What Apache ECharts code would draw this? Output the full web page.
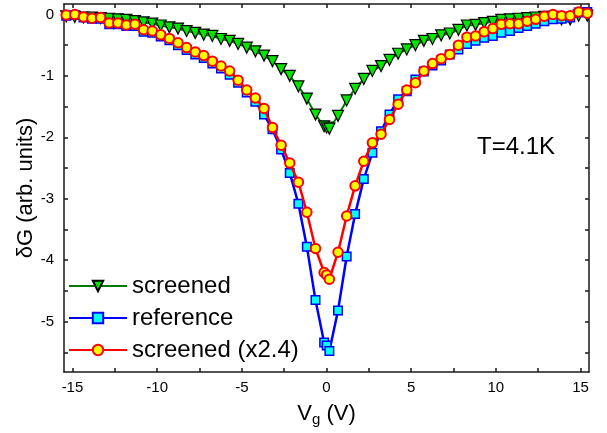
<!DOCTYPE html>
<html><head><meta charset="utf-8">
<script src="https://cdn.jsdelivr.net/npm/echarts@6/dist/echarts.min.js"></script>
<style>html,body{margin:0;padding:0;background:#fff}#c{width:607px;height:433px}</style>
</head><body><div id="c"></div>
<script>
// Gate voltage (V)
const vg = [-15.37,-14.86,-14.35,-13.85,-13.34,-12.83,-12.32,-11.82,-11.31,-10.80,-10.29,-9.79,-9.28,-8.77,-8.26,-7.75,-7.25,-6.74,-6.23,-5.72,-5.22,-4.71,-4.20,-3.69,-3.19,-2.68,-2.17,-1.66,-1.16,-0.65,-0.14,0.01,0.17,0.68,1.19,1.69,2.20,2.71,3.22,3.72,4.23,4.74,5.25,5.75,6.26,6.77,7.28,7.79,8.29,8.80,9.31,9.82,10.32,10.83,11.34,11.85,12.35,12.86,13.37,13.88,14.39,14.89,15.40];
const screened = [-0.03,-0.04,-0.05,-0.05,-0.06,-0.07,-0.08,-0.09,-0.11,-0.13,-0.15,-0.18,-0.21,-0.23,-0.27,-0.30,-0.33,-0.35,-0.40,-0.43,-0.48,-0.54,-0.60,-0.67,-0.76,-0.89,-1.00,-1.17,-1.37,-1.63,-1.82,-1.84,-1.86,-1.65,-1.40,-1.21,-1.05,-0.92,-0.84,-0.74,-0.64,-0.57,-0.50,-0.43,-0.40,-0.34,-0.31,-0.25,-0.18,-0.17,-0.14,-0.12,-0.09,-0.08,-0.07,-0.06,-0.05,-0.04,-0.04,-0.08,-0.08,-0.02,-0.02];
const reference = [-0.02,-0.01,-0.05,-0.07,-0.07,-0.16,-0.16,-0.19,-0.19,-0.28,-0.30,-0.36,-0.42,-0.50,-0.58,-0.65,-0.71,-0.80,-0.88,-0.98,-1.11,-1.27,-1.42,-1.63,-1.87,-2.20,-2.58,-3.08,-3.78,-4.65,-5.34,-5.39,-5.48,-4.82,-3.94,-3.25,-2.68,-2.25,-1.90,-1.63,-1.38,-1.25,-1.06,-0.93,-0.83,-0.75,-0.65,-0.57,-0.48,-0.43,-0.38,-0.35,-0.30,-0.27,-0.22,-0.19,-0.15,-0.11,-0.08,-0.07,-0.05,0.03,0.04];
const screenedX24 = [-0.01,0.00,-0.04,-0.06,-0.05,-0.14,-0.14,-0.17,-0.16,-0.25,-0.27,-0.33,-0.39,-0.46,-0.54,-0.61,-0.67,-0.76,-0.84,-0.92,-1.07,-1.23,-1.36,-1.53,-1.84,-2.13,-2.42,-2.73,-3.22,-3.81,-4.20,-4.24,-4.31,-3.87,-3.28,-2.79,-2.39,-2.09,-1.95,-1.71,-1.46,-1.23,-1.11,-0.92,-0.80,-0.72,-0.65,-0.50,-0.37,-0.35,-0.28,-0.23,-0.16,-0.15,-0.15,-0.11,-0.08,-0.03,0.00,-0.02,-0.02,0.04,0.02];
const seriesNames = ['screened', 'reference', 'screened (x2.4)'];
const xLabels = [-15, -10, -5, 0, 5, 10, 15];
const xTicks = [-15, -12.5, -10, -7.5, -5, -2.5, 0, 2.5, 5, 7.5, 10, 12.5, 15];
const yLabels = [-5, -4, -3, -2, -1, 0];
const yTicks = [-5.5, -5, -4.5, -4, -3.5, -3, -2.5, -2, -1.5, -1, -0.5, 0];
const annotation = 'T=4.1K';

const F = '"Liberation Sans", Arial, sans-serif';
const lineSt = { color: '#1a1a1a', width: 1.5 };
const pairs = ys => vg.map((x, i) => [x, ys[i]]);

function xAx(pos, labels) {
  return {
    type: 'value', min: -15.5, max: 15.5, position: pos,
    axisLine: { show: true, onZero: false, lineStyle: lineSt },
    axisTick: { show: true, inside: true, length: 4, customValues: xTicks, lineStyle: lineSt },
    splitLine: { show: false },
    axisLabel: { show: labels, customValues: xLabels, fontSize: 15, color: '#000', fontFamily: F, margin: 8 },
    name: labels ? '{a|V}{s|g}{a| (V)}' : '',
    nameLocation: 'middle', nameGap: 28, nameMoveOverlap: false,
    nameTextStyle: { color: '#000', fontFamily: F, rich: {
      a: { fontSize: 22, fontFamily: F, color: '#000' },
      s: { fontSize: 15, fontFamily: F, color: '#000', padding: [12, 0, 0, 0] } } }
  };
}
function yAx(pos, labels) {
  return {
    type: 'value', min: -5.82, max: 0.17, position: pos,
    axisLine: { show: true, onZero: false, lineStyle: lineSt },
    axisTick: { show: true, inside: true, length: 4, customValues: yTicks, lineStyle: lineSt },
    splitLine: { show: false },
    axisLabel: { show: labels, customValues: yLabels, fontSize: 15, color: '#000', fontFamily: F, margin: 10 },
    name: labels ? 'δG (arb. units)' : '',
    nameLocation: 'middle', nameGap: 27, nameMoveOverlap: false,
    nameTextStyle: { fontSize: 22, color: '#000', fontFamily: F }
  };
}

const chart = echarts.init(document.getElementById('c'), null, { renderer: 'canvas' });
chart.setOption({
  animation: false,
  backgroundColor: '#fff',
  grid: { left: 64, right: 18, top: 4, bottom: 61 },
  xAxis: [xAx('bottom', true), xAx('top', false)],
  yAxis: [yAx('left', true), yAx('right', false)],
  legend: {
    orient: 'vertical', left: 68, top: 274, padding: 0, itemWidth: 58, itemHeight: 13, itemGap: 8,
    textStyle: { fontSize: 24, fontFamily: F, color: '#000', lineHeight: 24 },
    data: seriesNames
  },
  graphic: [{
    type: 'text', x: 516, y: 147,
    style: { text: annotation, font: '24px "Liberation Sans", Arial, sans-serif', fill: '#000', align: 'center', verticalAlign: 'middle' }
  }],
  series: [
    { name: seriesNames[0], type: 'line', data: pairs(screened), symbol: 'triangle', symbolRotate: 180, symbolSize: 11,
      lineStyle: { color: '#007a00', width: 2 }, itemStyle: { color: '#00e600', borderColor: '#000', borderWidth: 1.2 }, z: 2 },
    { name: seriesNames[1], type: 'line', data: pairs(reference), symbol: 'rect', symbolSize: 8.5,
      lineStyle: { color: '#0000ff', width: 2.5 }, itemStyle: { color: '#00ffff', borderColor: '#0000ff', borderWidth: 1.5 }, z: 3 },
    { name: seriesNames[2], type: 'line', data: pairs(screenedX24), symbol: 'circle', symbolSize: 9.5,
      lineStyle: { color: '#ff0000', width: 2.5 }, itemStyle: { color: '#ffff00', borderColor: '#ff0000', borderWidth: 2 }, z: 4 }
  ]
});
</script></body></html>
